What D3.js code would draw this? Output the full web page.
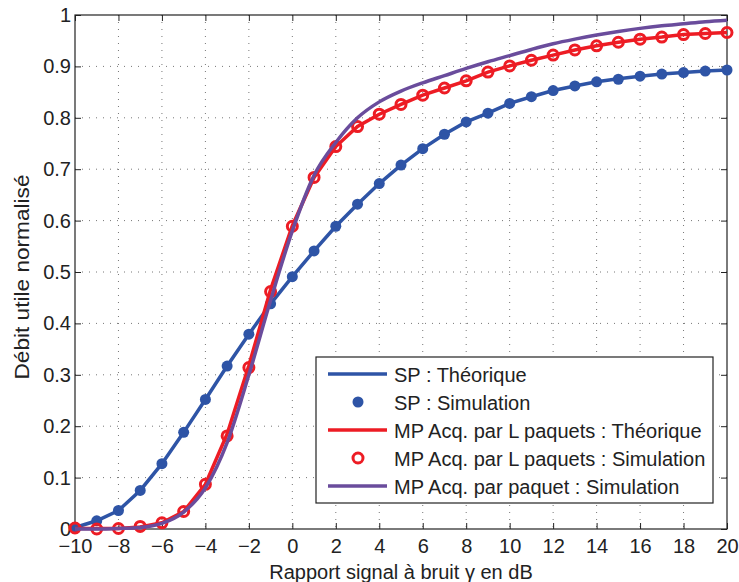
<!DOCTYPE html>
<html>
<head>
<meta charset="utf-8">
<script src="https://cdn.jsdelivr.net/npm/d3@7"></script>
<style>
body{margin:0;background:#fff}
svg text{font-family:"Liberation Sans",Arial,sans-serif;fill:#222}
</style>
</head>
<body>
<svg id="chart" width="739" height="582"></svg>
<script>
//---data---
var snr=d3.range(-10,21)
var spTheo=[0.003,0.016,0.036,0.075,0.127,0.188,0.252,0.317,0.379,0.438,0.491,0.541,0.589,0.632,0.672,0.708,0.740,0.768,0.792,0.809,0.828,0.841,0.853,0.862,0.870,0.876,0.881,0.885,0.888,0.891,0.893]
var spSim=[0.003,0.016,0.036,0.075,0.127,0.188,0.252,0.317,0.379,0.438,0.491,0.541,0.589,0.632,0.672,0.708,0.740,0.768,0.792,0.809,0.828,0.841,0.853,0.862,0.870,0.875,0.881,0.885,0.888,0.891,0.893]
var mpTheo=[0.001,0.001,0.001,0.004,0.012,0.034,0.087,0.185,0.318,0.466,0.590,0.684,0.744,0.783,0.807,0.826,0.844,0.858,0.872,0.889,0.901,0.912,0.922,0.932,0.940,0.947,0.953,0.957,0.962,0.964,0.966]
var mpSim=[0.002,0.000,0.001,0.005,0.012,0.034,0.087,0.181,0.314,0.462,0.589,0.684,0.744,0.783,0.807,0.826,0.844,0.858,0.872,0.889,0.901,0.912,0.922,0.932,0.940,0.947,0.953,0.957,0.962,0.964,0.966]
var mpPaquet=[0.000,0.000,0.001,0.003,0.011,0.033,0.080,0.168,0.300,0.445,0.580,0.688,0.752,0.800,0.831,0.852,0.868,0.882,0.896,0.909,0.921,0.933,0.944,0.953,0.961,0.968,0.974,0.979,0.983,0.987,0.990]
var xTicks=d3.range(-10,21,2)
var yTicks=d3.range(0,11).map(function(i){return i/10})
var legendLabels=["SP : Théorique","SP : Simulation","MP Acq. par L paquets : Théorique","MP Acq. par L paquets : Simulation","MP Acq. par paquet : Simulation"]

var blue="#2e54a6", red="#ed1c24", purple="#6a4c9c"

var svg=d3.select("#chart")
//---plot box (don't call it top: window.top)---
var pL=75, pR=727, pT=15, pB=529
var x=d3.scaleLinear().domain([-10,20]).range([pL,pR])
var y=d3.scaleLinear().domain([0,1]).range([pB,pT])

//---grid---
var grid=svg.append("g")
grid.selectAll(".gx").data(xTicks.slice(1,-1)).enter().append("line")
    .attr("x1",function(d){return x(d)}).attr("x2",function(d){return x(d)})
    .attr("y1",pT).attr("y2",pB)
grid.selectAll(".gy").data(yTicks.slice(1,-1)).enter().append("line")
    .attr("x1",pL).attr("x2",pR)
    .attr("y1",function(d){return y(d)}).attr("y2",function(d){return y(d)})
grid.selectAll("line").attr("stroke","#777").attr("stroke-width",1).attr("stroke-dasharray","1,6")

//---axes (ticks inside, mirrored)---
var fmt=function(d){return d<0?"\u2212"+Math.abs(d):String(d)}
svg.append("g").attr("transform","translate(0,"+pB+")")
    .call(d3.axisBottom(x).tickValues(xTicks).tickSize(-6).tickPadding(10).tickFormat(fmt))
svg.append("g").attr("transform","translate(0,"+pT+")")
    .call(d3.axisTop(x).tickValues(xTicks).tickSize(-6).tickFormat(""))
svg.append("g").attr("transform","translate("+pL+",0)")
    .call(d3.axisLeft(y).tickValues(yTicks).tickSize(-6).tickPadding(4).tickFormat(function(d){return String(+d.toFixed(1))}))
svg.append("g").attr("transform","translate("+pR+",0)")
    .call(d3.axisRight(y).tickValues(yTicks).tickSize(-6).tickFormat(""))
svg.selectAll(".domain").remove()
svg.selectAll(".tick line").attr("stroke","#222")
svg.selectAll(".tick text").attr("font-size",20).attr("fill","#222")
svg.append("rect").attr("x",pL).attr("y",pT).attr("width",pR-pL).attr("height",pB-pT)
    .attr("fill","none").attr("stroke","#222").attr("stroke-width",1.2)

//---series---
function line(vals,curve){
    return d3.line().x(function(d,i){return x(snr[i])}).y(function(d){return y(d)}).curve(curve||d3.curveLinear)(vals)
}
var plot=svg.append("g")
plot.append("path").attr("d",line(spTheo)).attr("fill","none").attr("stroke",blue).attr("stroke-width",3.5)
plot.selectAll(".sp").data(spSim).enter().append("circle")
    .attr("cx",function(d,i){return x(snr[i])}).attr("cy",function(d){return y(d)})
    .attr("r",5.5).attr("fill",blue)
plot.append("path").attr("d",line(mpTheo)).attr("fill","none").attr("stroke",red).attr("stroke-width",3.5)
plot.selectAll(".mp").data(mpSim).enter().append("circle")
    .attr("cx",function(d,i){return x(snr[i])}).attr("cy",function(d){return y(d)})
    .attr("r",5).attr("fill","none").attr("stroke",red).attr("stroke-width",3)
plot.append("path").attr("d",line(mpPaquet,d3.curveMonotoneX)).attr("fill","none").attr("stroke",purple).attr("stroke-width",3.5)

//---labels---
svg.append("text").attr("x",401).attr("y",579).attr("text-anchor","middle").attr("font-size",20)
    .text("Rapport signal à bruit \u03b3 en dB")
svg.append("text").attr("transform","translate(29,277) rotate(-90)").attr("text-anchor","middle").attr("font-size",20)
    .attr("textLength",205).attr("lengthAdjust","spacingAndGlyphs")
    .text("Débit utile normalisé")

//---legend---
var lg=svg.append("g")
lg.append("rect").attr("x",316).attr("y",357).attr("width",397).attr("height",146)
    .attr("fill","#fff").attr("stroke","#222").attr("stroke-width",1.2)
var rowY=[374,402,430,458,486]
var kinds=[{t:"line",c:blue},{t:"dot",c:blue},{t:"line",c:red},{t:"ring",c:red},{t:"line",c:purple}]
kinds.forEach(function(k,i){
    if(k.t=="line")
        lg.append("line").attr("x1",328).attr("x2",387).attr("y1",rowY[i]).attr("y2",rowY[i]).attr("stroke",k.c).attr("stroke-width",3.5)
    else if(k.t=="dot")
        lg.append("circle").attr("cx",358).attr("cy",rowY[i]).attr("r",5.5).attr("fill",k.c)
    else
        lg.append("circle").attr("cx",358).attr("cy",rowY[i]).attr("r",5).attr("fill","none").attr("stroke",k.c).attr("stroke-width",3)
    lg.append("text").attr("x",394).attr("y",rowY[i]+7.5).attr("font-size",20).text(legendLabels[i])
})
</script>
</body>
</html>
